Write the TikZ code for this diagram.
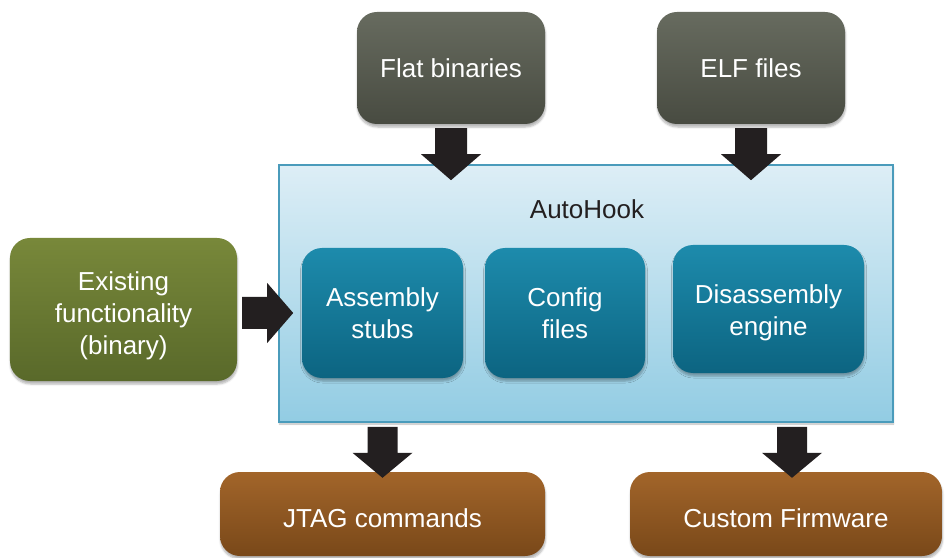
\documentclass[tikz,border=0pt]{standalone}
\usepackage{fontspec}
\setmainfont{Liberation Sans}
\usetikzlibrary{shadows.blur,calc}

\definecolor{slateTop}{HTML}{676B5F}
\definecolor{slateBot}{HTML}{484B41}
\definecolor{oliveTop}{HTML}{78883A}
\definecolor{oliveBot}{HTML}{59692A}
\definecolor{tealTop}{HTML}{1D8BAC}
\definecolor{tealBot}{HTML}{0C6481}
\definecolor{skyTop}{HTML}{DDEEF6}
\definecolor{skyBot}{HTML}{92CCE3}
\definecolor{skyEdge}{HTML}{4A9BBB}
\definecolor{rustTop}{HTML}{A2652A}
\definecolor{rustBot}{HTML}{794819}
\definecolor{arrowc}{HTML}{231F20}

\begin{document}
\begin{tikzpicture}[x=1bp,y=-1bp,
  lbl/.style={font=\fontsize{26bp}{32bp}\selectfont, align=center},
  box/.style={lbl, rounded corners=20bp, inner sep=0pt, text=white,
    blur shadow={shadow xshift=0.5bp, shadow yshift=-3bp,
      shadow blur steps=5, shadow blur radius=2bp, shadow opacity=30}},
  slatebox/.style={box, top color=slateTop, bottom color=slateBot},
  olivebox/.style={box, top color=oliveTop, bottom color=oliveBot},
  tealbox/.style={box, top color=tealTop, bottom color=tealBot},
  rustbox/.style={box, top color=rustTop, bottom color=rustBot},
  container/.style={draw=skyEdge, line width=1.2bp, inner sep=0pt,
    top color=skyTop, bottom color=skyBot,
    blur shadow={shadow xshift=0.5bp, shadow yshift=-2bp,
      shadow blur steps=4, shadow blur radius=1.5bp, shadow opacity=25}},
  blockarrow/.style={fill=arrowc}]

\useasboundingbox (0,0) rectangle (945,558);

% AutoHook container and its parts
\node[container, minimum width=614bp, minimum height=257bp] (auto) at (586,293.5) {};
\node[lbl, text=arrowc] (autolbl) at (587,209) {AutoHook};
\node[tealbox, minimum width=161bp, minimum height=130bp] (asm) at (382.5,313) {Assembly\\stubs};
\node[tealbox, minimum width=160bp, minimum height=130bp] (cfg) at (565,313) {Config\\files};
\node[tealbox, minimum width=191bp, minimum height=128bp,
      text height=52bp, text depth=0bp] (dis) at (768.5,309) {Disassembly\\engine};

% inputs
\node[slatebox, minimum width=188bp, minimum height=112bp] (fb) at (451,68) {Flat binaries};
\node[slatebox, minimum width=188bp, minimum height=112bp] (elf) at (751,68) {ELF files};
\node[olivebox, minimum width=227bp, minimum height=143bp,
      text height=89bp, text depth=0bp] (ex) at (123.5,309.5) {Existing\\functionality\\(binary)};

% outputs
\node[rustbox, minimum width=325bp, minimum height=84bp,
      text height=27bp, text depth=0bp] (jt) at (382.5,514) {JTAG commands};
\node[rustbox, minimum width=312bp, minimum height=84bp,
      text height=27bp, text depth=0bp] (cf) at (786,514) {Custom Firmware};

% block arrows into the container
\fill[blockarrow, shift={(fb.south)}]
  (-16,4) -- (16,4) -- (16,30) -- (30,30) -- (0,56) -- (-30,30) -- (-16,30) -- cycle;
\fill[blockarrow, shift={(elf.south)}]
  (-16,4) -- (16,4) -- (16,30) -- (30,30) -- (0,56) -- (-30,30) -- (-16,30) -- cycle;
\fill[blockarrow, shift={($(ex.east)+(0,3.5)$)}]
  (5,-16) -- (30,-16) -- (30,-30) -- (56,0) -- (30,30) -- (30,16) -- (5,16) -- cycle;

% block arrows out of the container
\fill[blockarrow, shift={($(jt.north)+(0,6)$)}]
  (-15,-51) -- (15,-51) -- (15,-25) -- (30,-25) -- (0,0) -- (-30,-25) -- (-15,-25) -- cycle;
\fill[blockarrow, shift={($(cf.north)+(6,6)$)}]
  (-15,-51) -- (15,-51) -- (15,-25) -- (30,-25) -- (0,0) -- (-30,-25) -- (-15,-25) -- cycle;

\end{tikzpicture}
\end{document}
